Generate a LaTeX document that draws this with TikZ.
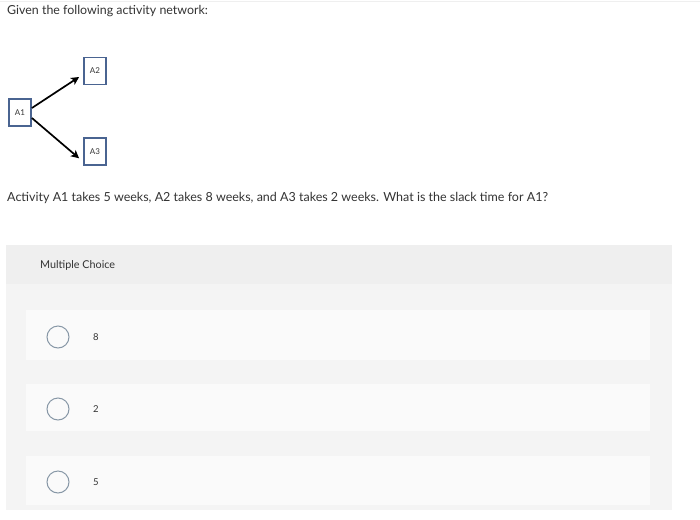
\documentclass[tikz,border=0pt]{standalone}
\usepackage{fontspec}
\setmainfont{Lato}
\usepackage{xcolor}
\usepackage{tikz}
\usetikzlibrary{shapes.geometric, arrows, arrows.meta, positioning}
\definecolor{boxblue}{HTML}{4A6491}
\definecolor{inktext}{HTML}{333333}
\definecolor{panelgray}{HTML}{F4F4F4}
\definecolor{headgray}{HTML}{EFEFEF}
\definecolor{cardgray}{HTML}{FAFAFA}
\definecolor{ringgray}{HTML}{8797A6}
\tikzstyle{activity} = [rectangle, minimum width=22pt, minimum height=27pt, inner sep=0pt, text centered, draw=boxblue, fill=white, line width=1.8pt, font=\fontsize{8}{9}\selectfont, text=inktext]
\tikzstyle{arrow} = [line width=1.7pt, ->, >={Stealth[length=8pt, width=8pt, inset=2pt]}, draw=black]
\tikzstyle{plain} = [inner sep=0pt, anchor=base west, text=inktext]
\tikzstyle{radio} = [circle, minimum size=22pt, inner sep=0pt, draw=ringgray, line width=1pt]
\tikzstyle{answer} = [inner sep=0pt, text=inktext, font=\fontsize{9.5}{10}\selectfont]
\tikzstyle{card} = [fill=cardgray]

\begin{document}
\begin{tikzpicture}[x=1pt, y=-1pt]
        \useasboundingbox (0,0) rectangle (700,519);
        \fill[white] (0,0) rectangle (700,519);
        \draw[headgray, line width=0.8pt] (0,1) -- (700,1);

        % Texts
        \node (title) [plain, font=\fontsize{12.4}{14}\selectfont] at (7,15) {Given the following activity network:};
        \node (question) [plain, font=\fontsize{12.5}{14}\selectfont] at (7,201) {Activity A1 takes 5 weeks, A2 takes 8 weeks, and A3 takes 2 weeks. What is the slack time for A1?};

        % Network
        \node (a1) [activity] at (20,112.5) {A1};
        \node (a2) [activity] at (95,71) {A2};
        \node (a3) [activity, below=52pt of a2] {A3};

        \draw [arrow] ([yshift=4.5pt]a1.east) -- ([xshift=-4pt,yshift=-6pt]a2.west);
        \draw [arrow] ([yshift=-5.5pt]a1.east) -- ([xshift=-4pt,yshift=-6.5pt]a3.west);

        % Multiple choice panel
        \fill[panelgray] (6,245) rectangle (672,510);
        \fill[headgray] (6,245) rectangle (672,284);
        \node (mc) [plain, anchor=west, font=\fontsize{10.8}{12}\selectfont] at (40,265) {Multiple Choice};

        \fill[card] (26,310) rectangle (650,360);
        \fill[card] (26,384) rectangle (650,431);
        \fill[card] (26,456) rectangle (650,505);

        \node (r1) [radio] at (58,337) {};
        \node (r2) [radio] at (58,409) {};
        \node (r3) [radio] at (58,482) {};
        \node (c1) [answer] at (96,337) {8};
        \node (c2) [answer] at (96,409) {2};
        \node (c3) [answer] at (96,482) {5};
    \end{tikzpicture}
\end{document}
